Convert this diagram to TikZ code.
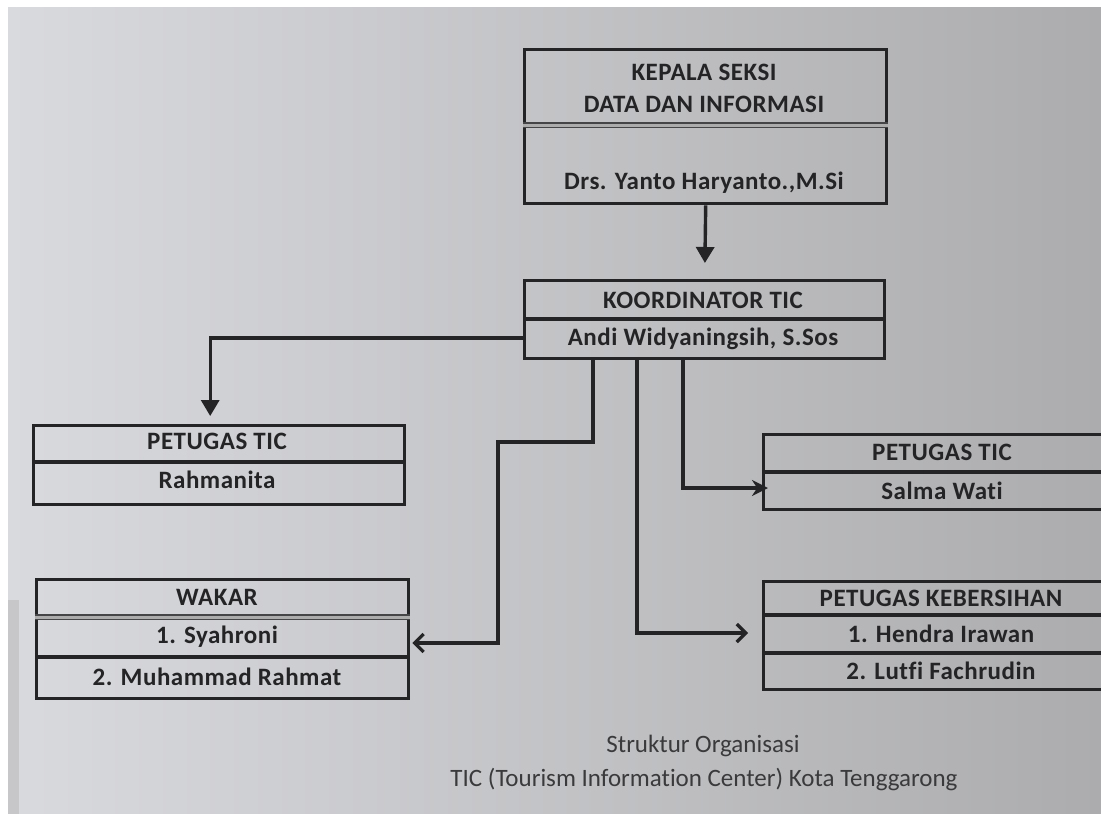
\documentclass[tikz,border=0pt]{standalone}
\usepackage{fontspec}
\setmainfont{Carlito}[Ligatures=CommonOff]
\usetikzlibrary{arrows.meta}
\definecolor{ink}{RGB}{36,36,38}
\definecolor{paperL}{RGB}{217,218,222}
\definecolor{paperM}{RGB}{203,203,206}
\definecolor{paperR}{RGB}{172,172,174}
\begin{document}
\begin{tikzpicture}[x=1pt,y=-1pt,
  box/.style={draw=ink,line width=3.4pt,inner sep=0pt,anchor=north west},
  lbl/.style={font=\bfseries\fontsize{25}{28}\selectfont\addfontfeature{LetterSpace=2},text=ink,inner sep=0pt},
  captxt/.style={font=\fontsize{25}{28}\selectfont,text=ink!90,inner sep=0pt},
  sep/.style={draw=ink,line width=3.2pt},
  dsep/.style={draw=ink!85,line width=1.4pt,double=gray!65,double distance=3pt},
  conn/.style={draw=ink,line width=3.4pt},
  tipdown/.style={-{Triangle[length=16pt,width=18pt]}},
  tipbarb/.style={-{Straight Barb[length=9pt,width=18pt,line width=3.2pt]}},
  tipstealth/.style={-{Stealth[length=16pt,width=16pt]}}]
\useasboundingbox (0,0) rectangle (1101,814);
\fill[white] (0,0) rectangle (1101,814);
\shade[left color=paperL,middle color=paperM,right color=paperR] (8,7) rectangle (1101,814);
\fill[gray!60,opacity=0.45] (8,600) rectangle (19,814);

% boxes
\node[box,minimum width=362pt,minimum height=154pt] (kepala) at (523,48) {};
\node[box,minimum width=360pt,minimum height=78pt] (koord) at (523,279) {};
\node[box,minimum width=371pt,minimum height=79pt] (petL) at (32,424) {};
\node[box,minimum width=372pt,minimum height=119pt] (wakar) at (35,578) {};
\node[box,minimum width=360pt,minimum height=75pt] (petR) at (762,433) {};
\node[box,minimum width=360pt,minimum height=108pt] (keb) at (762,580) {};

% dividers
\draw[dsep] (kepala.west |- 0,125) -- (kepala.east |- 0,125);
\draw[sep] (koord.west |- 0,319) -- (koord.east |- 0,319);
\draw[sep] (petL.west |- 0,462) -- (petL.east |- 0,462);
\draw[dsep] (wakar.west |- 0,617) -- (wakar.east |- 0,617);
\draw[sep] (wakar.west |- 0,657) -- (wakar.east |- 0,657);
\draw[sep] (petR.west |- 0,472) -- (petR.east |- 0,472);
\draw[sep] (keb.west |- 0,615) -- (keb.east |- 0,615);
\draw[sep] (keb.west |- 0,653) -- (keb.east |- 0,653);

% texts
\node[lbl] (t1) at (704,72) {KEPALA SEKSI};
\node[lbl] (t2) at (704,104) {DATA DAN INFORMASI};
\node[lbl] (t3) at (704,183) {Drs. Yanto Haryanto.,M.Si};
\node[lbl] (t4) at (703,300) {KOORDINATOR TIC};
\node[lbl] (t5) at (703,339) {Andi Widyaningsih, S.Sos};
\node[lbl] (t6) at (217,441) {PETUGAS TIC};
\node[lbl] (t7) at (217,480) {Rahmanita};
\node[lbl] (t8) at (217,597) {WAKAR};
\node[lbl] (t9) at (217,637) {1. Syahroni};
\node[lbl] (t10) at (217,677) {2. Muhammad Rahmat};
\node[lbl] (t11) at (942,452) {PETUGAS TIC};
\node[lbl] (t12) at (942,491) {Salma Wati};
\node[lbl] (t13) at (941,598) {PETUGAS KEBERSIHAN};
\node[lbl] (t14) at (941,634) {1. Hendra Irawan};
\node[lbl] (t15) at (941,671) {2. Lutfi Fachrudin};
\node[captxt] (c1) at (703,746) {Struktur Organisasi};
\node[captxt] (c2) at (704,779) {TIC (Tourism Information Center) Kota Tenggarong};

% connectors
\draw[conn,tipdown,shorten >=16pt] (kepala.south) -- (koord.north);
\draw[conn,tipdown,shorten >=8pt] (koord.west |- 0,338) -| ([xshift=-9pt]petL.north);
\draw[conn,tipbarb] (koord.south -| 593,0) |- (498,442) |- ([xshift=2pt]wakar.east |- 0,643);
\draw[conn,tipbarb,shorten >=14pt] (koord.south -| 637,0) |- (keb.west |- 0,633);
\draw[conn,tipstealth,shorten >=-6pt] (koord.south -| 683,0) |- (petR.west |- 0,488);
\end{tikzpicture}
\end{document}
